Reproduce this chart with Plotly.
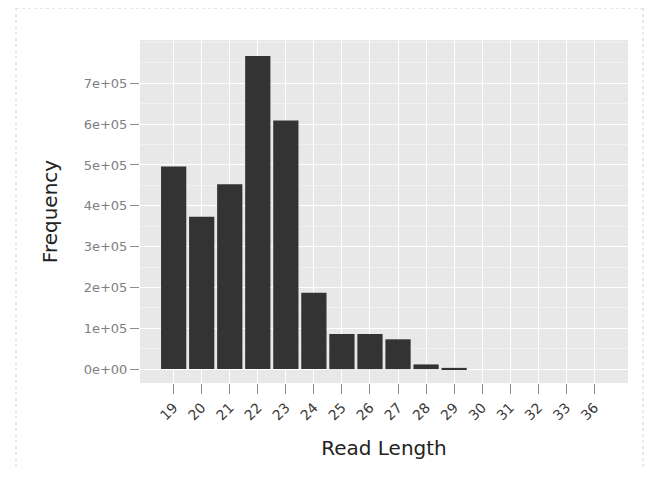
import plotly.graph_objects as go

read_length = ["19", "20", "21", "22", "23", "24", "25", "26", "27", "28",
               "29", "30", "31", "32", "33", "36"]
frequency = [496000, 373000, 453000, 767000, 609000, 187000, 86000, 86000,
             73000, 11500, 3000, 0, 0, 0, 0, 0]
y_tickvals = [0, 100000, 200000, 300000, 400000, 500000, 600000, 700000]
y_ticktext = ["0e+00", "1e+05", "2e+05", "3e+05", "4e+05", "5e+05", "6e+05", "7e+05"]

W, H = 661, 478
OFF = 8  # page body margin
L, R, T, B = 140 - OFF, 41, 40 - OFF, 103
pw, ph = W - L - R, H - T - B

def px_x(p):
    return (p - OFF - L) / pw

def px_y(p):
    return (H - B - (p - OFF)) / ph

fig = go.Figure()
fig.add_trace(go.Bar(
    x=read_length, y=frequency,
    marker=dict(color="#333333", line=dict(width=0)),
    hoverinfo="x+y",
))

fig.update_layout(
    width=W, height=H,
    margin=dict(l=L, r=R, t=T, b=B),
    paper_bgcolor="white",
    plot_bgcolor="#E8E8E8",
    bargap=0.1,
    showlegend=False,
    font=dict(family="DejaVu Sans", color="#222222"),
    xaxis=dict(
        type="category",
        range=[-1.2, 16.2],
        showgrid=True, gridcolor="white", gridwidth=1.2,
        ticks="outside", ticklen=10, tickcolor="#8a8a8a", tickwidth=1,
        tickangle=-45,
        tickfont=dict(size=14, color="#3a3a3a"),
        title=dict(text="Read Length", font=dict(size=20, color="#222222"), standoff=18),
        zeroline=False, showline=False,
    ),
    yaxis=dict(
        range=[-34000, 806000],
        tickvals=y_tickvals, ticktext=y_ticktext,
        showgrid=True, gridcolor="white", gridwidth=1.2,
        minor=dict(dtick=50000, tick0=0, showgrid=True, gridcolor="#F1F1F1", gridwidth=0.6, ticks=""),
        ticks="outside", ticklen=9, tickcolor="#8a8a8a", tickwidth=1,
        tickfont=dict(size=13, color="#808080"),
        title=dict(text="Frequency", font=dict(size=20, color="#222222"), standoff=20),
        zeroline=False, showline=False,
    ),
)

# faint dotted frame of the original screenshot
for x0, y0, x1, y1 in [(16, 8, 16, 470), (16, 8, 645, 8), (643, 8, 643, 470)]:
    fig.add_shape(type="line", xref="paper", yref="paper",
                  x0=px_x(x0), y0=px_y(y0), x1=px_x(x1), y1=px_y(y1),
                  line=dict(color="#D0D0D0", width=1, dash="dot"), layer="below")

fig.write_html("out.html")
